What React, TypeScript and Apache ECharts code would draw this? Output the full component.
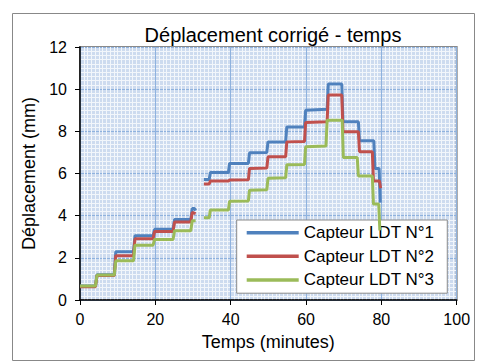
import React, { useEffect, useRef } from "react";
import * as echarts from "echarts";

const chartTitle = "Déplacement corrigé - temps";
const xTitle = "Temps (minutes)";
const yTitle = "Déplacement (mm)";
const seriesNames = ["Capteur LDT N°1", "Capteur LDT N°2", "Capteur LDT N°3"];
const seriesColors = ["#4F81BD", "#C0504D", "#9BBB59"];

type Pt = [number, number | null];

const capteur1: Pt[] = [
  [0, 0.66], [4.1, 0.66], [4.5, 1.2], [9.1, 1.2], [9.5, 2.29], [14.2, 2.29], [14.6, 3.05],
  [19.4, 3.05], [19.8, 3.35], [24.7, 3.35], [25.1, 3.82], [29.4, 3.82], [29.8, 4.34],
  [30.4, 4.34], [30.7, 4.25],
  [31.8, null],
  [32.9, 5.72], [34.3, 5.72], [34.6, 6.05], [39.4, 6.05], [39.7, 6.48], [44.7, 6.48],
  [45.0, 6.98], [49.6, 7.0], [49.9, 7.5], [54.6, 7.5], [54.9, 8.21], [59.6, 8.21],
  [59.9, 9.0], [65.6, 9.05], [65.9, 10.24], [69.5, 10.24], [69.8, 8.45], [73.9, 8.45],
  [74.2, 7.55], [78.0, 7.55], [78.3, 6.24], [79.4, 6.24], [79.7, 4.62],
];

const capteur2: Pt[] = [
  [0, 0.63], [4.1, 0.63], [4.5, 1.16], [9.1, 1.16], [9.5, 2.1], [14.2, 2.1], [14.6, 2.9],
  [19.4, 2.9], [19.8, 3.25], [24.7, 3.25], [25.1, 3.7], [29.4, 3.7], [29.8, 4.16],
  [30.7, 4.1],
  [31.8, null],
  [32.9, 5.5], [34.3, 5.5], [34.6, 5.64], [39.4, 5.64], [39.7, 5.69], [44.7, 5.7],
  [45.0, 6.24], [49.6, 6.26], [49.9, 6.79], [54.6, 6.8], [54.9, 7.5], [59.6, 7.52],
  [59.9, 8.42], [65.6, 8.45], [65.9, 9.72], [69.5, 9.72], [69.8, 7.98], [73.9, 7.98],
  [74.2, 7.03], [77.6, 7.03], [77.9, 5.64], [79.5, 5.64], [79.8, 5.3],
];

const capteur3: Pt[] = [
  [0, 0.66], [4.1, 0.66], [4.5, 1.18], [9.1, 1.18], [9.5, 1.86], [14.2, 1.86], [14.6, 2.6],
  [19.4, 2.6], [19.8, 2.87], [24.7, 2.87], [25.1, 3.28], [29.4, 3.28], [29.8, 3.76],
  [30.7, 3.76],
  [31.8, null],
  [32.9, 3.9], [34.3, 3.9], [34.6, 4.27], [39.4, 4.27], [39.7, 4.68], [44.7, 4.7],
  [45.0, 5.21], [49.6, 5.23], [49.9, 5.77], [54.6, 5.8], [54.9, 6.42], [59.6, 6.43],
  [59.9, 7.27], [65.3, 7.3], [65.6, 8.53], [69.6, 8.53], [69.9, 6.76], [73.6, 6.76],
  [73.9, 5.88], [77.6, 5.88], [77.9, 4.55], [79.3, 4.55], [79.6, 3.3],
];

const seriesData = [capteur1, capteur2, capteur3];

const FONT = "Liberation Sans, Arial, sans-serif";

export default function App() {
  const ref = useRef<HTMLDivElement>(null);
  useEffect(() => {
    if (!ref.current) return;
    const chart = echarts.init(ref.current, undefined, { renderer: "svg" });
    const axisCommon = {
      type: "value" as const,
      axisLine: { show: true, onZero: false, lineStyle: { color: "#000", width: 1.5 } },
      axisTick: { show: true, inside: false, length: 5, lineStyle: { color: "#000", width: 1 } },
      splitLine: { show: true, lineStyle: { color: "#8fb2de", width: 1 } },
      minorSplitLine: { show: true, lineStyle: { color: "#f2f6fb", width: 1 } },
      nameTextStyle: { fontFamily: FONT, fontSize: 18, color: "#000" },
    };
    chart.setOption({
      animation: false,
      textStyle: { fontFamily: FONT },
      title: {
        text: chartTitle,
        left: 268,
        top: 20,
        textAlign: "center",
        textStyle: { fontFamily: FONT, fontSize: 20, fontWeight: "normal", color: "#000" },
      },
      graphic: [
        {
          type: "rect",
          shape: { x: 12.5, y: 13.5, width: 462, height: 347 },
          style: { fill: "none", stroke: "#888", lineWidth: 1 },
          z: -10,
        },
      ],
      grid: {
        left: 80,
        right: 24.3,
        top: 47,
        bottom: 64,
        show: true,
        backgroundColor: "#cddbef",
        borderColor: "#8a8a8a",
        borderWidth: 2,
      },
      legend: {
        orient: "vertical",
        left: 236.7,
        top: 220,
        padding: [4.2, 13, 4.8, 10],
        icon: "rect",
        itemWidth: 52,
        itemHeight: 3.5,
        itemGap: 6.6,
        backgroundColor: "#fff",
        borderColor: "#8a8a8a",
        borderWidth: 1,
        textStyle: { fontFamily: FONT, fontSize: 17, color: "#000", lineHeight: 17 },
        data: seriesNames,
      },
      xAxis: {
        ...axisCommon,
        min: 0,
        max: 100,
        interval: 20,
        minorTick: { show: false, splitNumber: 20 },
        axisLabel: { fontFamily: FONT, fontSize: 16, color: "#000", margin: 11 },
        name: xTitle,
        nameLocation: "middle",
        nameGap: 33,
      },
      yAxis: {
        ...axisCommon,
        min: 0,
        max: 12,
        interval: 2,
        minorTick: { show: false, splitNumber: 10 },
        axisLabel: { fontFamily: FONT, fontSize: 16, color: "#000", margin: 13 },
        name: yTitle,
        nameLocation: "middle",
        nameGap: 32,
        nameRotate: 90,
      },
      series: seriesData.map((d, i) => ({
        name: seriesNames[i],
        type: "line",
        data: d,
        showSymbol: false,
        symbol: "none",
        connectNulls: false,
        color: seriesColors[i],
        itemStyle: { color: seriesColors[i] },
        lineStyle: { color: seriesColors[i], width: 3 },
        z: 3 + i,
      })),
    });
    return () => chart.dispose();
  }, []);
  return (
    <div
      ref={ref}
      style={{ position: "fixed", left: 0, top: 0, width: 481, height: 364, background: "#fff" }}
    />
  );
}
